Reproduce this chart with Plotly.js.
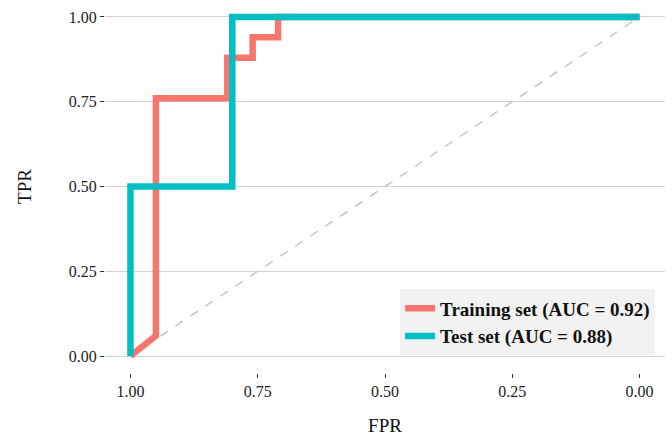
<!DOCTYPE html>
<html>
<head>
<meta charset="utf-8">
<script src="https://cdn.plot.ly/plotly-3.0.1.min.js"></script>
<style>html,body{margin:0;padding:0;background:#fff;}#chart{width:672px;height:436px;}</style>
</head>
<body>
<div id="chart"></div>
<script>
const trainFPR = [1.00, 0.95, 0.95, 0.81, 0.81, 0.76, 0.76, 0.71, 0.71, 0.00];
const trainTPR = [0.00, 0.06, 0.76, 0.76, 0.88, 0.88, 0.94, 0.94, 1.00, 1.00];
const testFPR = [1.00, 1.00, 0.80, 0.80, 0.00];
const testTPR = [0.00, 0.50, 0.50, 1.00, 1.00];
const diagX = [1, 0];
const diagY = [0, 1];
const seriesNames = ["Training set (AUC = 0.92)", "Test set (AUC = 0.88)"];
const tickVals = [0, 0.25, 0.5, 0.75, 1];
const tickText = ["0.00", "0.25", "0.50", "0.75", "1.00"];

const font = "Times New Roman, Liberation Serif, DejaVu Serif, serif";
const traces = [
  {x: diagX, y: diagY, mode: "lines", line: {color: "#BEBEBE", width: 1.3, dash: "dash"}, showlegend: false, hoverinfo: "skip"},
  {x: trainFPR, y: trainTPR, mode: "lines", name: seriesNames[0], line: {color: "#F8766D", width: 6.5}},
  {x: testFPR, y: testTPR, mode: "lines", name: seriesNames[1], line: {color: "#00BFC4", width: 6.5}}
];
const layout = {
  width: 672, height: 436,
  margin: {l: 105, r: 7, t: 0, b: 63},
  paper_bgcolor: "#fff", plot_bgcolor: "#fff",
  font: {family: font, color: "#111"},
  xaxis: {
    range: [1.05, -0.05], tickvals: tickVals, ticktext: tickText,
    showgrid: false, zeroline: false, showline: false,
    ticks: "outside", ticklen: 4, tickcolor: "#333", tickwidth: 1,
    tickfont: {family: font, size: 16, color: "#222"},
    title: {text: "FPR", font: {family: font, size: 19, color: "#111"}, standoff: 24}
  },
  yaxis: {
    range: [-0.05, 1.05], tickvals: tickVals, ticktext: tickText,
    showgrid: true, gridcolor: "#D3D3D3", gridwidth: 1, zeroline: false, showline: false,
    ticks: "outside", ticklen: 4, tickcolor: "#333", tickwidth: 1,
    tickfont: {family: font, size: 16, color: "#222"},
    title: {text: "TPR", font: {family: font, size: 19, color: "#111"}, standoff: 32}
  },
  legend: {
    x: 0.527, y: 0.224, xanchor: "left", yanchor: "top",
    bgcolor: "#F2F2F2", borderwidth: 0,
    font: {family: font, size: 19, color: "#111", weight: "bold"},
    tracegroupgap: 0, itemwidth: 30
  },
  showlegend: true
};
Plotly.newPlot("chart", traces, layout, {displayModeBar: false, staticPlot: true});
</script>
</body>
</html>
